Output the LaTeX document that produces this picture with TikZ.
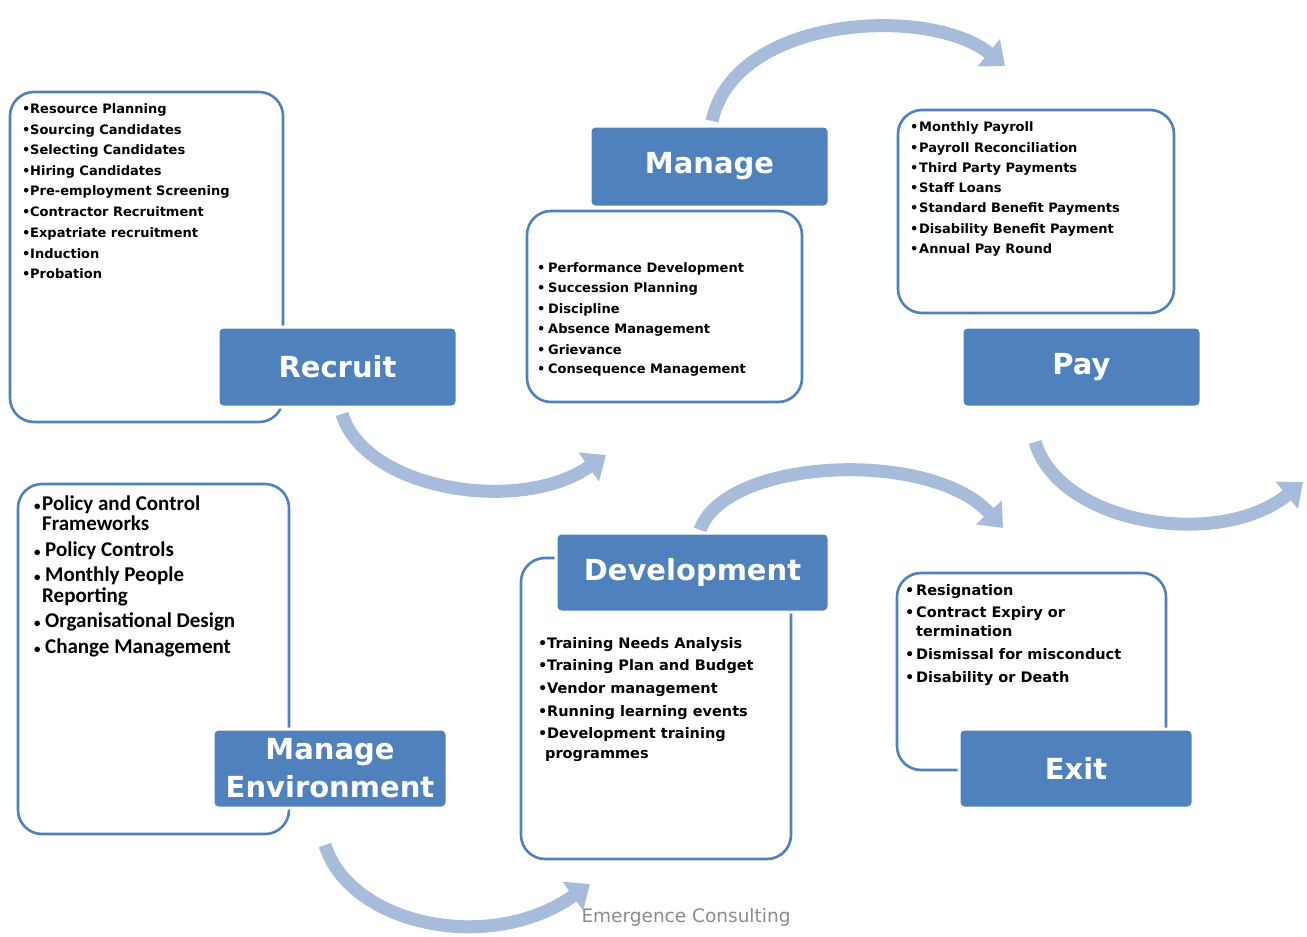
\documentclass[tikz,border=0pt]{standalone}
\usepackage{fontspec}
\setmainfont{DejaVu Sans}
\newfontfamily\calfont{Carlito}
\usetikzlibrary{arrows.meta}
\definecolor{hdr}{RGB}{79,129,189}
\definecolor{arw}{RGB}{167,187,219}
\definecolor{foot}{RGB}{140,140,140}
\newcommand\bl[1]{\makebox[#1][l]{•}}
\newcommand\ebl[1]{\makebox[#1][l]{\fontsize{13}{13}\selectfont •}}
\begin{document}
\begin{tikzpicture}[x=1pt,y=-1pt,
  listbox/.style={draw=hdr, line width=2.6pt, rounded corners=24pt, fill=white, inner sep=0pt},
  hdrbox/.style={fill=hdr, draw=white, line width=3pt, rounded corners=5pt, text=white,
    font=\fontsize{29}{38}\selectfont\bfseries, align=center, inner sep=0pt},
  smalltxt/.style={anchor=base west, inner sep=0pt, font=\fontsize{13}{15}\selectfont\bfseries},
  medtxt/.style={anchor=base west, inner sep=0pt, font=\fontsize{14.5}{16}\selectfont\bfseries},
  envtxt/.style={anchor=base west, inner sep=0pt, font=\calfont\fontsize{21}{22}\selectfont\bfseries},
  flow/.style={draw=arw, line width=13pt, -{Triangle[width=34pt,length=21pt]}}]
\useasboundingbox (0,0) rectangle (1307,937);
\fill[white] (0,0) rectangle (1307,937);

% arrows
\coordinate (a1s) at (342,414);  \coordinate (a1e) at (606,455);
\coordinate (a2s) at (712,121);  \coordinate (a2e) at (1005,66);
\coordinate (a3s) at (1035,442); \coordinate (a3e) at (1303,482);
\coordinate (a4s) at (700,530);  \coordinate (a4e) at (1003,528);
\coordinate (a5s) at (325,845);  \coordinate (a5e) at (590,884);
\draw[flow] (a1s) .. controls (365,490) and (520,515) .. (a1e);
\draw[flow] (a2s) .. controls (735,15) and (930,5) .. (a2e);
\draw[flow] (a3s) .. controls (1060,525) and (1220,550) .. (a3e);
\draw[flow] (a4s) .. controls (725,458) and (930,448) .. (a4e);
\draw[flow] (a5s) .. controls (350,925) and (490,955) .. (a5e);

% list boxes
\node[listbox, minimum width=273pt, minimum height=330pt] (recl) at (146.5,257) {};
\node[listbox, minimum width=275pt, minimum height=191pt] (manl) at (664.5,306.5) {};
\node[listbox, minimum width=276pt, minimum height=203pt] (payl) at (1036,211.5) {};
\node[listbox, minimum width=271pt, minimum height=350pt] (envl) at (153.5,659) {};
\node[listbox, minimum width=270pt, minimum height=301pt] (devl) at (656,708.5) {};
\node[listbox, minimum width=269pt, minimum height=197pt] (exil) at (1031.5,671.5) {};

% headers
\node[hdrbox, minimum width=239pt, minimum height=80pt] (rech) at (337.5,367) {Recruit};
\node[hdrbox, minimum width=239pt, minimum height=81pt] (manh) at (709.5,166.5) {Manage};
\node[hdrbox, minimum width=239pt, minimum height=80pt] (payh) at (1081.5,367) {Pay};
\node[hdrbox, minimum width=234pt, minimum height=79pt] (envh) at (330,768.5) {Manage\\Environment};
\node[hdrbox, minimum width=273pt, minimum height=79pt] (devh) at (692.5,572.5) {Development};
\node[hdrbox, minimum width=234pt, minimum height=79pt] (exih) at (1076,768.5) {Exit};

% Recruit list
\foreach \y/\t [count=\i] in {113/{Resource Planning},134/{Sourcing Candidates},154/{Selecting Candidates},
  175/{Hiring Candidates},195/{Pre-employment Screening},216/{Contractor Recruitment},
  237/{Expatriate recruitment},258/{Induction},278/{Probation}}
  \node[smalltxt] (rt\i) at (22,\y) {\bl{8pt}\t};

% Manage list
\foreach \y/\t [count=\i] in {272/{Performance Development},292/{Succession Planning},313/{Discipline},
  333/{Absence Management},354/{Grievance},373/{Consequence Management}}
  \node[smalltxt] (mt\i) at (537,\y) {\bl{11pt}\t};

% Pay list
\foreach \y/\t [count=\i] in {131/{Monthly Payroll},152/{Payroll Reconciliation},172/{Third Party Payments},
  192/{Staff Loans},212/{Standard Benefit Payments},233/{Disability Benefit Payment},253/{Annual Pay Round}}
  \node[smalltxt] (pt\i) at (910,\y) {\bl{9pt}\t};

% Manage Environment list
\node[envtxt] (et1) at (34,510) {\ebl{8pt}Policy and Control};
\node[envtxt] (et2) at (42,530) {Frameworks};
\node[envtxt] (et3) at (34,556) {\ebl{11pt}Policy Controls};
\node[envtxt] (et4) at (34,581) {\ebl{11pt}Monthly People};
\node[envtxt] (et5) at (42,602) {Reporting};
\node[envtxt] (et6) at (34,627) {\ebl{11pt}Organisational Design};
\node[envtxt] (et7) at (34,653) {\ebl{11pt}Change Management};

% Development list
\foreach \y/\t [count=\i] in {648/{Training Needs Analysis},670/{Training Plan and Budget},693/{Vendor management},
  716/{Running learning events},738/{Development training}}
  \node[medtxt] (dt\i) at (538,\y) {\bl{9pt}\t};
\node[medtxt] (dt6) at (545,758) {programmes};

% Exit list
\node[medtxt] (xt1) at (905,595) {\bl{11pt}Resignation};
\node[medtxt] (xt2) at (905,617) {\bl{11pt}Contract Expiry or};
\node[medtxt] (xt3) at (916,636) {termination};
\node[medtxt] (xt4) at (905,659) {\bl{11pt}Dismissal for misconduct};
\node[medtxt] (xt5) at (905,682) {\bl{11pt}Disability or Death};

% footer
\node[text=foot, font=\fontsize{18.5}{20}\selectfont, inner sep=0pt] (foot) at (686,917) {Emergence Consulting};
\end{tikzpicture}
\end{document}
